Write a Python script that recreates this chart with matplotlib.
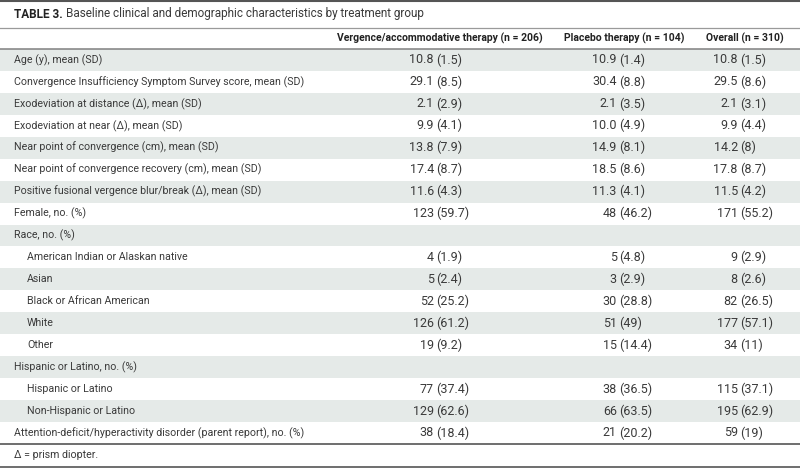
import matplotlib
matplotlib.use("Agg")
import matplotlib.pyplot as plt

# table content
title_bold = "TABLE 3."
title_rest = "Baseline clinical and demographic characteristics by treatment group"
col_headers = ["Vergence/accommodative therapy (n = 206)",
               "Placebo therapy (n = 104)",
               "Overall (n = 310)"]

row_labels = [
    "Age (y), mean (SD)",
    "Convergence Insufficiency Symptom Survey score, mean (SD)",
    "Exodeviation at distance (\u0394), mean (SD)",
    "Exodeviation at near (\u0394), mean (SD)",
    "Near point of convergence (cm), mean (SD)",
    "Near point of convergence recovery (cm), mean (SD)",
    "Positive fusional vergence blur/break (\u0394), mean (SD)",
    "Female, no. (%)",
    "Race, no. (%)",
    "American Indian or Alaskan native",
    "Asian",
    "Black or African American",
    "White",
    "Other",
    "Hispanic or Latino, no. (%)",
    "Hispanic or Latino",
    "Non-Hispanic or Latino",
    "Attention-deficit/hyperactivity disorder (parent report), no. (%)",
]
indented = [False] * 9 + [True] * 5 + [False] + [True] * 2 + [False]

vergence = ["10.8 (1.5)", "29.1 (8.5)", "2.1 (2.9)", "9.9 (4.1)", "13.8 (7.9)",
            "17.4 (8.7)", "11.6 (4.3)", "123 (59.7)", "", "4 (1.9)", "5 (2.4)",
            "52 (25.2)", "126 (61.2)", "19 (9.2)", "", "77 (37.4)", "129 (62.6)",
            "38 (18.4)"]
placebo = ["10.9 (1.4)", "30.4 (8.8)", "2.1 (3.5)", "10.0 (4.9)", "14.9 (8.1)",
           "18.5 (8.6)", "11.3 (4.1)", "48 (46.2)", "", "5 (4.8)", "3 (2.9)",
           "30 (28.8)", "51 (49)", "15 (14.4)", "", "38 (36.5)", "66 (63.5)",
           "21 (20.2)"]
overall = ["10.8 (1.5)", "29.5 (8.6)", "2.1 (3.1)", "9.9 (4.4)", "14.2 (8)",
           "17.8 (8.7)", "11.5 (4.2)", "171 (55.2)", "", "9 (2.9)", "8 (2.6)",
           "82 (26.5)", "177 (57.1)", "34 (11)", "", "115 (37.1)", "195 (62.9)",
           "59 (19)"]
footnote = "\u0394 = prism diopter."

# layout (pixel units)
W, H = 800, 468
body_top, row_h = 49, 21.94
header_x = [440, 624, 745]
anchor_x = [435, 618, 739]
shade = "#e5eae8"
txt = "#3a3a3a"
body_font = ["Roboto", "DejaVu Sans"]

fig = plt.figure(figsize=(W / 100, H / 100), dpi=100)
ax = fig.add_axes([0, 0, 1, 1])
ax.set_xlim(0, W)
ax.set_ylim(H, 0)
ax.axis("off")
renderer = fig.canvas.get_renderer()


def fit_size(s, width_px, **kw):
    # font size that gives the string the wanted pixel width
    probe = ax.text(0, 0, s, fontsize=10, **kw)
    w = probe.get_window_extent(renderer).width
    probe.remove()
    return 10 * width_px / w


fs = fit_size(row_labels[-1], 290, family=body_font)
fs_num = fit_size("10.8(1.5)", 50, family=body_font)
fs_head = fit_size(col_headers[0], 206, family=body_font, fontweight="bold")
fs_title = fit_size(title_bold + " " + title_rest, 413, family=body_font)

# zebra rows
for i in range(len(row_labels)):
    if i % 2 == 0:
        ax.axhspan(body_top + i * row_h, body_top + (i + 1) * row_h,
                   color=shade, lw=0, zorder=0)

# rules
body_bottom = body_top + len(row_labels) * row_h
ax.axhline(1, color="#555555", lw=1.5)
ax.axhline(27.5, color="#9a9a9a", lw=0.9)
ax.axhline(body_top, color="#808080", lw=1.1)
ax.axhline(body_bottom, color="#555555", lw=1.2)
ax.axhline(466.5, color="#555555", lw=1.2)

# title
t = ax.text(14, 14, title_bold, fontsize=fs_title, fontweight="bold",
            family=body_font, color="#222222", va="center", ha="left")
bb = t.get_window_extent(renderer)
ax.text(bb.x1 + 3, 14, title_rest, fontsize=fs_title, family=body_font,
        color=txt, va="center", ha="left")

# column headers
for x, h in zip(header_x, col_headers):
    ax.text(x, 38.5, h, fontsize=fs_head, fontweight="bold",
            family=body_font, color="#222222", va="center", ha="center")

# body
for i, lab in enumerate(row_labels):
    y = body_top + (i + 0.5) * row_h
    ax.text(27 if indented[i] else 14, y, lab, fontsize=fs, family=body_font,
            color=txt, va="center", ha="left")
    for ax_x, col in zip(anchor_x, [vergence, placebo, overall]):
        v = col[i]
        if not v:
            continue
        num, rest = v.split(" ", 1)
        ax.text(ax_x - 1.2, y, num, fontsize=fs_num, family=body_font,
                color=txt, va="center", ha="right")
        ax.text(ax_x + 1.2, y, rest, fontsize=fs_num, family=body_font,
                color=txt, va="center", ha="left")

ax.text(14, (body_bottom + 466.5) / 2, footnote, fontsize=fs, family=body_font,
        color=txt, va="center", ha="left")

fig.savefig("out.png", dpi=100)
